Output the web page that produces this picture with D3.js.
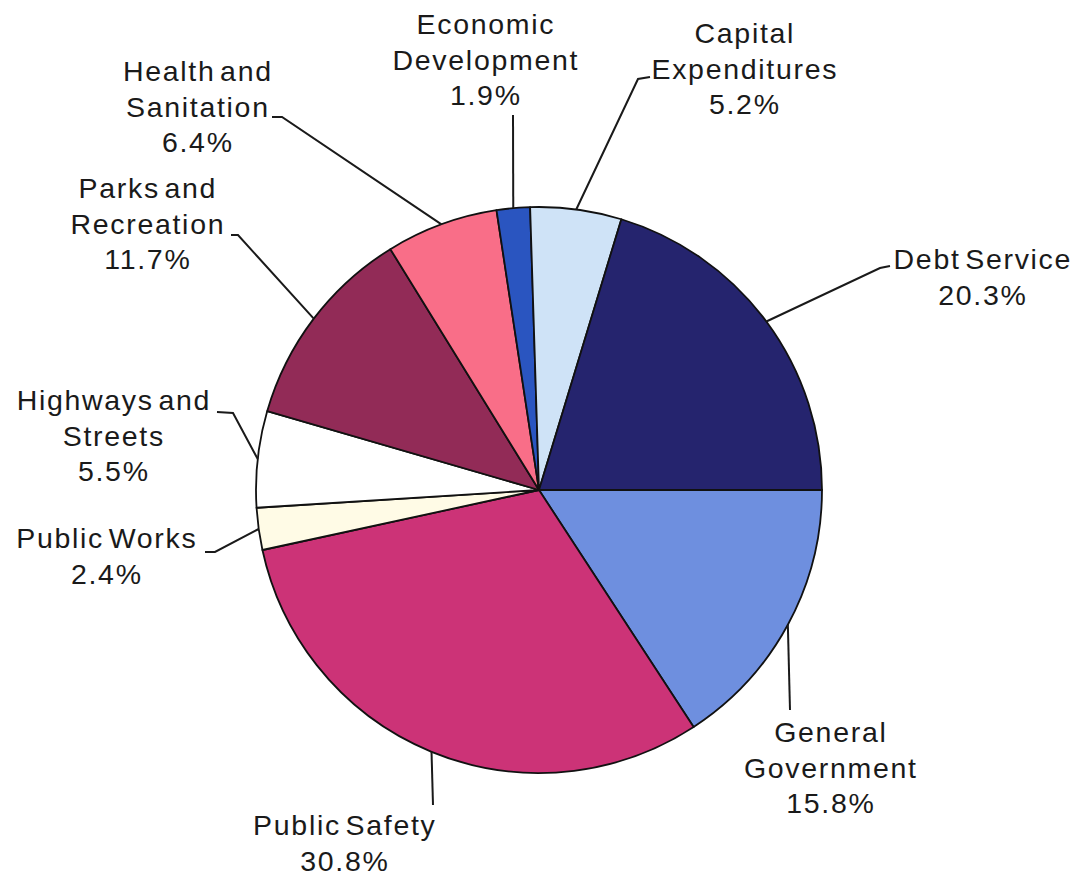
<!DOCTYPE html>
<html>
<head>
<meta charset="utf-8">
<script src="https://cdn.jsdelivr.net/npm/d3@7"></script>
<style>
  html, body { margin: 0; padding: 0; background: #ffffff; }
  svg { display: block; }
</style>
</head>
<body>
<svg id="chart" width="1080" height="876"></svg>
<script>
// ---- Data ----
const categories = [
  "General Government",
  "Public Safety",
  "Public Works",
  "Highways and Streets",
  "Parks and Recreation",
  "Health and Sanitation",
  "Economic Development",
  "Capital Expenditures",
  "Debt Service"
];
const values = [15.8, 30.8, 2.4, 5.5, 11.7, 6.4, 1.9, 5.2, 20.3];
const labelLines = [
  ["General", "Government"],
  ["Public Safety"],
  ["Public Works"],
  ["Highways and", "Streets"],
  ["Parks and", "Recreation"],
  ["Health and", "Sanitation"],
  ["Economic", "Development"],
  ["Capital", "Expenditures"],
  ["Debt Service"]
];

// ---- Styles / layout ----
const colors = ["#6e8fdf", "#cc3377", "#fffbe6", "#ffffff", "#922b57",
                "#f96e88", "#2a55c0", "#cfe3f7", "#25246e"];
const cx = 539, cy = 490, R = 283;
// label layout: text centre x, first baseline y, leader bend points (outer end last)
const labelLayout = [
  { x: 830, y: 742, pts: [[790, 710]] },
  { x: 344, y: 835, pts: [[433, 805]] },
  { x: 106, y: 548, pts: [[215, 552], [205, 552]] },
  { x: 113, y: 410, pts: [[233, 413], [217, 412]] },
  { x: 147, y: 198, pts: [[238, 235], [231, 235]] },
  { x: 197, y: 81,  pts: [[282, 117], [272, 117]] },
  { x: 485, y: 34,  pts: [[513, 115]] },
  { x: 744, y: 43,  pts: [[638, 79], [650, 77]] },
  { x: 982, y: 269, pts: [[880, 268], [890, 266]] }
];
const lineGap = 35.5;

const svg = d3.select("#chart");
const color = d3.scaleOrdinal().domain(categories).range(colors);

const pie = d3.pie()
  .sort(null)
  .value(d => d.value)
  .startAngle(Math.PI / 2)
  .endAngle(Math.PI / 2 + 2 * Math.PI);

const data = categories.map((c, i) => ({ name: c, value: values[i], idx: i }));
const arcs = pie(data);
const arc = d3.arc().innerRadius(0).outerRadius(R);

const g = svg.append("g").attr("transform", `translate(${cx},${cy})`);
g.selectAll("path.slice")
  .data(arcs)
  .enter().append("path")
  .attr("class", "slice")
  .attr("d", arc)
  .attr("fill", d => color(d.data.name))
  .attr("stroke", "#111")
  .attr("stroke-width", 1.8)
  .attr("stroke-linejoin", "round");

// leader lines
const line = d3.line();
arcs.forEach((a, i) => {
  const mid = (a.startAngle + a.endAngle) / 2;
  const ex = cx + R * Math.sin(mid);
  const ey = cy - R * Math.cos(mid);
  const pts = [[ex, ey]].concat(labelLayout[i].pts);
  svg.append("path")
    .attr("d", line(pts))
    .attr("fill", "none")
    .attr("stroke", "#1a1a1a")
    .attr("stroke-width", 2);
});

// labels
const fmt = d3.format(".1f");
arcs.forEach((a, i) => {
  const L = labelLayout[i];
  const lines = labelLines[i].concat([fmt(a.data.value) + "%"]);
  const t = svg.append("text")
    .attr("text-anchor", "middle")
    .attr("font-family", "'Liberation Sans', Arial, sans-serif")
    .attr("font-size", 28.5)
    .attr("letter-spacing", 1.7)
    .attr("word-spacing", -5)
    .attr("fill", "#1a1a1a");
  lines.forEach((s, k) => {
    t.append("tspan")
      .attr("x", L.x + 0.85)
      .attr("y", L.y + k * lineGap)
      .text(s);
  });
});
</script>
</body>
</html>
